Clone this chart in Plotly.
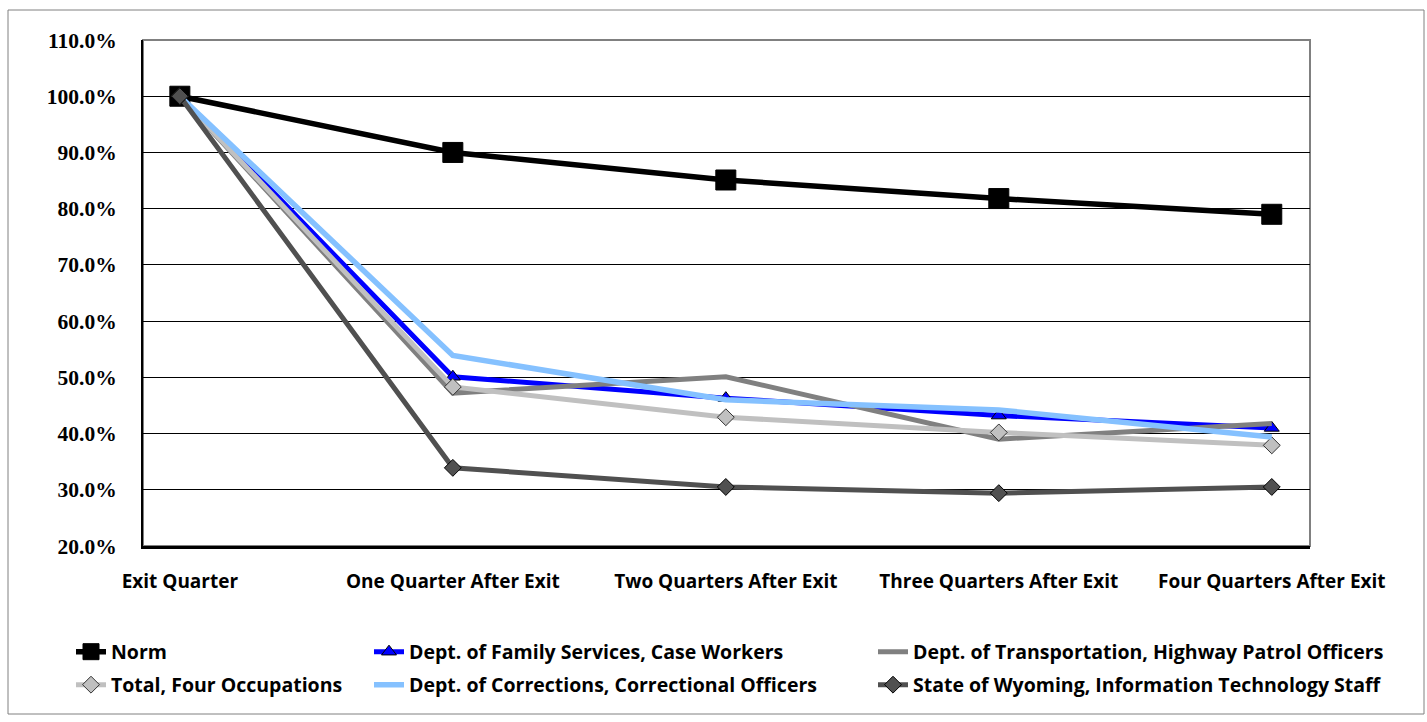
import plotly.graph_objects as go

# Quarters after exit and retention rates (percent of exit-quarter employees)
quarters = ["Exit Quarter", "One Quarter After Exit", "Two Quarters After Exit",
            "Three Quarters After Exit", "Four Quarters After Exit"]

norm = [100.0, 90.0, 85.1, 81.8, 79.0]
family_services = [100.0, 50.1, 46.3, 43.2, 41.0]
transportation = [100.0, 47.2, 50.1, 39.0, 41.8]
total_four = [100.0, 48.3, 42.9, 40.2, 37.9]
corrections = [100.0, 53.9, 46.0, 44.2, 39.4]
it_staff = [100.0, 33.9, 30.5, 29.4, 30.5]

y_ticks = [20, 30, 40, 50, 60, 70, 80, 90, 100, 110]

W, H = 1427, 722
L, R, T, B = 143, 1310, 40, 546  # plot area in pixels

LEG_FONT = dict(family="Open Sans", size=19.5, color="#000000", weight="bold")

series = [
    dict(name="Norm", y=norm, color="#000000", width=5.5,
         marker=dict(symbol="square", size=20, color="#000000",
                     line=dict(color="#000000", width=1)),
         legend="legend", pos=(71, 652)),
    dict(name="Dept. of Family Services, Case Workers", y=family_services,
         color="#0000FF", width=5,
         marker=dict(symbol="triangle-up", size=13, color="#0000FF",
                     line=dict(color="#000000", width=1)),
         legend="legend2", pos=(369, 652)),
    dict(name="Dept. of Transportation, Highway Patrol Officers", y=transportation,
         color="#808080", width=5, marker=None,
         legend="legend3", pos=(873, 652)),
    dict(name="Total, Four Occupations", y=total_four, color="#C0C0C0", width=5,
         marker=dict(symbol="diamond", size=13, color="#C0C0C0",
                     line=dict(color="#333333", width=1)),
         legend="legend4", pos=(71, 685)),
    dict(name="Dept. of Corrections, Correctional Officers", y=corrections,
         color="#85C1FF", width=5.5, marker=None,
         legend="legend5", pos=(369, 685)),
    dict(name="State of Wyoming, Information Technology Staff", y=it_staff,
         color="#505050", width=5,
         marker=dict(symbol="diamond", size=13, color="#505050",
                     line=dict(color="#000000", width=1)),
         legend="legend6", pos=(873, 685)),
]

fig = go.Figure()
legend_layouts = {}
for s in series:
    kw = dict(x=quarters, y=s["y"], name=s["name"],
              line=dict(color=s["color"], width=s["width"]),
              legend=s["legend"])
    if s["marker"] is not None:
        kw["mode"] = "lines+markers"
        kw["marker"] = s["marker"]
    else:
        kw["mode"] = "lines"
    fig.add_trace(go.Scatter(**kw))
    px, py = s["pos"]
    legend_layouts[s["legend"]] = dict(
        xref="container", yref="container",
        x=px / W, y=1 - py / H, xanchor="left", yanchor="middle",
        orientation="v", font=LEG_FONT, bgcolor="rgba(0,0,0,0)",
        borderwidth=0,
    )

# paper coordinates for the outer chart frame
def px_x(p):
    return (p - L) / (R - L)

def px_y(p):
    return (B - p) / (B - T)

fig.update_layout(
    width=W, height=H,
    margin=dict(l=L, r=W - R, t=T, b=H - B, autoexpand=False),
    paper_bgcolor="#FFFFFF", plot_bgcolor="#FFFFFF",
    showlegend=True,
    xaxis=dict(
        type="category", range=[-0.135, 4.14],
        showgrid=False, zeroline=False,
        showline=True, linecolor="#000000", linewidth=3,
        ticks="", ticklabelstandoff=16,
        tickfont=dict(family="Open Sans", size=19, color="#000000",
                      weight="bold"),
    ),
    yaxis=dict(
        range=[20, 110], tickvals=y_ticks,
        ticktext=[f"{v:.1f}%" for v in y_ticks],
        showgrid=True, gridcolor="#000000", gridwidth=1,
        zeroline=False,
        showline=True, linecolor="#000000", linewidth=2,
        ticks="", ticklabelstandoff=20,
        tickfont=dict(family="Liberation Serif", size=21.5, color="#000000",
                      weight="bold"),
    ),
    shapes=[
        # plot-area border
        dict(type="rect", xref="paper", yref="paper", x0=0, x1=1, y0=0, y1=1,
             line=dict(color="#808080", width=2), layer="below"),
        # outer chart frame
        dict(type="rect", xref="paper", yref="paper",
             x0=px_x(8), x1=px_x(1424), y0=px_y(714), y1=px_y(10),
             line=dict(color="#808080", width=1), layer="below"),
    ],
    **legend_layouts,
)

fig.write_html("out.html")
